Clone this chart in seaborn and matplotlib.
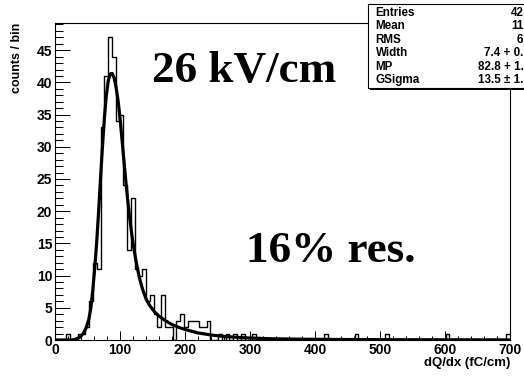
import numpy as np
import matplotlib
matplotlib.use("Agg")
import matplotlib.pyplot as plt
from matplotlib.patches import Rectangle
from matplotlib.ticker import MultipleLocator
import seaborn as sns

# histogram: 120 bins over 0-700 fC/cm
n_bins = 120
x_range = (0, 700)
counts = [
    0, 0, 0, 1, 0, 0, 1, 1, 2, 6, 12, 11, 33, 41, 47, 44, 34, 35, 24, 14,
    22, 11, 10, 11, 6, 7, 4, 2, 7, 2, 2, 0, 3, 4, 2, 3, 3, 3, 2, 2,
    3, 0, 0, 1, 0, 1, 0, 1, 0, 1, 0, 0, 1, 0, 0, 0, 0, 0, 0, 0,
    0, 0, 0, 0, 0, 0, 0, 0, 0, 0, 0, 1, 0, 0, 0, 0, 0, 0, 0, 1,
    0, 0, 0, 0, 0, 0, 0, 1, 0, 0, 0, 0, 0, 0, 0, 0, 0, 0, 0, 0,
    0, 0, 0, 1, 0, 0, 0, 0, 0, 0, 0, 0, 0, 0, 0, 0, 0, 0, 0, 1,
]

# fit curve
fit_x = [0, 20, 30, 36, 40, 44, 48, 52, 55, 58, 61, 64, 67, 70, 73, 76, 79, 82, 85, 88,
         91, 94, 97, 100, 103, 106, 109, 112, 115, 118, 122, 126, 130, 135, 140, 146,
         153, 160, 170, 180, 192, 205, 220, 240, 260, 290, 330, 380, 450, 550, 700]
fit_y = [0.0, 0.0, 0.05, 0.3, 0.6, 1.1, 1.9, 3.2, 4.9, 7.6, 11.0, 15.0, 19.8, 25.0, 30.0,
         34.5, 38.0, 40.3, 41.3, 41.4, 40.7, 39.2, 37.2, 34.5, 31.2, 27.9, 24.6, 21.6,
         18.9, 16.5, 13.8, 11.5, 9.6, 7.8, 6.4, 5.3, 4.4, 3.7, 3.0, 2.4, 1.9, 1.5, 1.1,
         0.78, 0.55, 0.35, 0.2, 0.12, 0.07, 0.04, 0.02]

stat_names = ["Entries", "Mean", "RMS", "Width", "MP", "GSigma"]
stat_values = ["42", "11", "6", "7.4 + 0.", "82.8 + 1.", "13.5 \u00b1 1."]

sns.set_style("ticks")
plt.rcParams['font.family'] = ['Liberation Sans', 'DejaVu Sans']
plt.rcParams.update({'text.color': 'black', 'axes.labelcolor': 'black',
                     'xtick.color': 'black', 'ytick.color': 'black',
                     'axes.edgecolor': 'black'})

W, H = 524, 376
fig = plt.figure(figsize=(W / 100, H / 100), dpi=100)
ax = fig.add_axes([55 / W, 1 - 340 / H, 455 / W, 317.5 / H])

width = (x_range[1] - x_range[0]) / n_bins
centers = x_range[0] + (np.arange(n_bins) + 0.5) * width
sns.histplot(x=centers, weights=counts, bins=n_bins, binrange=x_range,
             element="step", fill=False, color="black", linewidth=1.0, ax=ax)
sns.lineplot(x=fit_x, y=fit_y, color="black", linewidth=2.3, ax=ax)

ax.set_xlim(*x_range)
ax.set_ylim(0, 49.3)
ax.xaxis.set_major_locator(MultipleLocator(100))
ax.xaxis.set_minor_locator(MultipleLocator(20))
ax.yaxis.set_major_locator(MultipleLocator(5))
ax.yaxis.set_minor_locator(MultipleLocator(1))
ax.tick_params(axis='x', which='major', direction='in', length=6.5, width=0.75, pad=2)
ax.tick_params(axis='x', which='minor', direction='in', length=3.2, width=0.75)
ax.tick_params(axis='y', which='major', direction='in', length=10.8, width=0.75, pad=2)
ax.tick_params(axis='y', which='minor', direction='in', length=5.4, width=0.75)
for lab in ax.get_xticklabels() + ax.get_yticklabels():
    lab.set_fontweight('bold')
    lab.set_fontsize(10)
for sp in ax.spines.values():
    sp.set_visible(True)
    sp.set_linewidth(0.8)
    sp.set_color('black')

ax.set_ylabel("counts / bin", loc="top", fontsize=9, fontweight="bold")
ax.yaxis.set_label_coords(-0.07, 1.0)
ax.set_xlabel("dQ/dx (fC/cm)", loc="right", fontsize=9.5, fontweight="bold")
ax.xaxis.set_label_coords(1.0, -0.053)

fig.text(152 / W, 1 - 82 / H, "26 kV/cm", fontsize=32.5, fontweight="bold",
         family="Liberation Serif", ha="left", va="baseline")
fig.text(246 / W, 1 - 262 / H, "16% res.", fontsize=32.5, fontweight="bold",
         family="Liberation Serif", ha="left", va="baseline")

# stats box
fig.add_artist(Rectangle((370 / W, 1 - 90 / H), 200 / W, 86 / H, transform=fig.transFigure,
                         facecolor="black", edgecolor="none", zorder=5))
fig.add_artist(Rectangle((368 / W, 1 - 87.5 / H), 200 / W, 84 / H, transform=fig.transFigure,
                         facecolor="white", edgecolor="black", linewidth=0.8, zorder=6))
for i, (name, val) in enumerate(zip(stat_names, stat_values)):
    yb = 1 - (15.7 + 13.5 * i) / H
    fig.text(375.5 / W, yb, name, fontsize=8.4, fontweight="bold", ha="left",
             va="baseline", zorder=7)
    fig.text(523.5 / W, yb, val, fontsize=8.4, fontweight="bold", ha="right",
             va="baseline", zorder=7)

fig.savefig("out.png", dpi=100)
